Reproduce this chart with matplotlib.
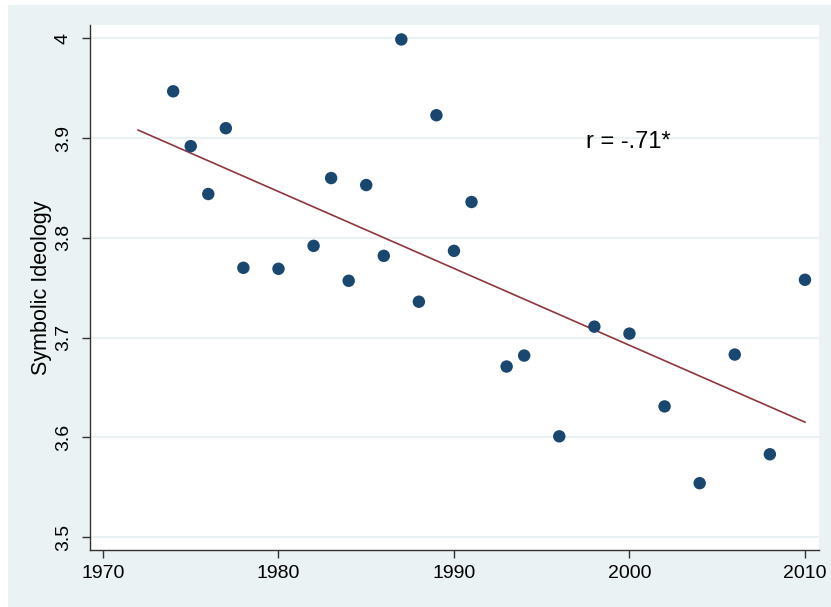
import numpy as np
import matplotlib
matplotlib.use("Agg")
import matplotlib.pyplot as plt
from matplotlib.patches import Rectangle

years = [1974, 1975, 1976, 1977, 1978, 1980, 1982, 1983, 1984, 1985, 1986, 1987,
         1988, 1989, 1990, 1991, 1993, 1994, 1996, 1998, 2000, 2002, 2004, 2006,
         2008, 2010]
ideology = [3.947, 3.892, 3.844, 3.910, 3.770, 3.769, 3.792, 3.860, 3.757, 3.853,
            3.782, 3.999, 3.736, 3.923, 3.787, 3.836, 3.671, 3.682, 3.601, 3.711,
            3.704, 3.631, 3.554, 3.683, 3.583, 3.758]
fit_range = [1972, 2010]
x_ticks = [1970, 1980, 1990, 2000, 2010]
y_ticks = [3.5, 3.6, 3.7, 3.8, 3.9, 4.0]
y_ticklabels = ["3.5", "3.6", "3.7", "3.8", "3.9", "4"]
annotation = "r = -.71*"
y_label = "Symbolic Ideology"

plt.rcParams['font.family'] = ['Liberation Sans', 'DejaVu Sans']

W, H = 831, 607
fig = plt.figure(figsize=(W / 100, H / 100), dpi=100)
fig.patch.set_facecolor("white")
# outer light bluish-gray panel
bg = Rectangle((8 / W, 0 / H), (W - 8) / W, (H - 4 - 1) / H,
               transform=fig.transFigure, facecolor="#eaf2f3",
               edgecolor="none", zorder=-10)
fig.add_artist(bg)

left, right, top, bottom = 90, 819, 25, 550
ax = fig.add_axes([left / W, 1 - bottom / H, (right - left) / W, (bottom - top) / H])
ax.set_zorder(5)
ax.set_facecolor("white")

x = np.array(years, dtype=float)
y = np.array(ideology, dtype=float)
slope, intercept = np.polyfit(x, y, 1)
xf = np.array(fit_range, dtype=float)
ax.plot(xf, intercept + slope * xf, color="#90353b", lw=1.2, zorder=2)
ax.scatter(x, y, s=80, color="#1a476f", edgecolors="none", zorder=3)

ax.set_xlim(1969.26, 2010.8)
ax.set_ylim(3.487, 4.0135)
ax.set_xticks(x_ticks)
ax.set_yticks(y_ticks)
ax.set_yticklabels(y_ticklabels, rotation=90, va="center")
ax.tick_params(axis="both", labelsize=14, length=6, width=1, color="#333333", direction="out")
ax.tick_params(axis="y", pad=7)
ax.tick_params(axis="x", pad=5)
ax.grid(axis="y", color="#eaf2f3", lw=1.5)
ax.set_axisbelow(True)
for s in ["top", "right"]:
    ax.spines[s].set_visible(False)
for s in ["left", "bottom"]:
    ax.spines[s].set_color("#333333")
    ax.spines[s].set_linewidth(1)
ax.set_ylabel(y_label, fontsize=15.5, labelpad=2)
ax.text(1997.5, 3.896, annotation, fontsize=17, va="center", ha="left")

fig.savefig("out.png", dpi=100, facecolor=fig.get_facecolor())
